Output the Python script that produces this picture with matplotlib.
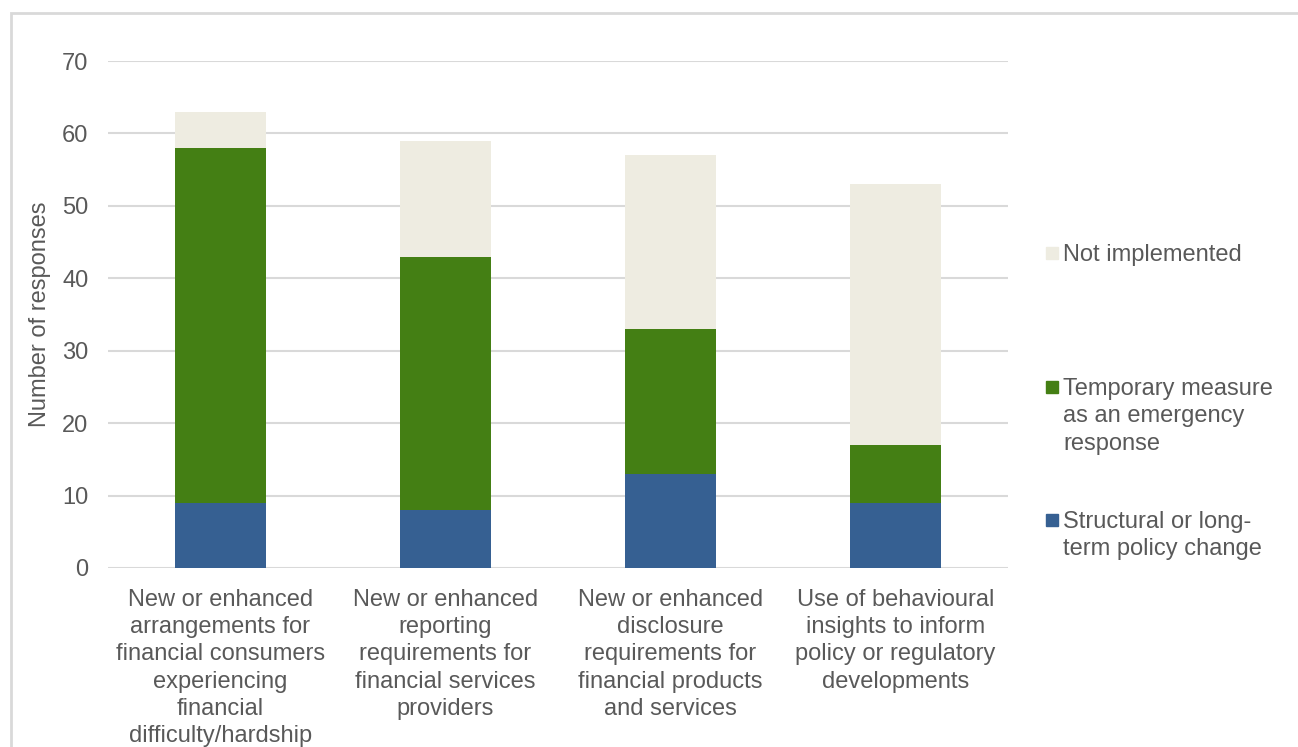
import matplotlib.pyplot as plt
from matplotlib.patches import Rectangle

plt.rcParams["font.family"] = ["Liberation Sans", "DejaVu Sans"]

categories = [
    "New or enhanced\narrangements for\nfinancial consumers\nexperiencing\nfinancial\ndifficulty/hardship",
    "New or enhanced\nreporting\nrequirements for\nfinancial services\nproviders",
    "New or enhanced\ndisclosure\nrequirements for\nfinancial products\nand services",
    "Use of behavioural\ninsights to inform\npolicy or regulatory\ndevelopments",
]
structural = [9, 8, 13, 9]
temporary = [49, 35, 20, 8]
not_implemented = [5, 16, 24, 36]

series_labels = [
    "Structural or long-\nterm policy change",
    "Temporary measure\nas an emergency\nresponse",
    "Not implemented",
]
colors = ["#366092", "#447F14", "#EEECE1"]
text_col = "#595959"
grid_col = "#D9D9D9"
fs = 17

W, H = 1298, 747
fig = plt.figure(figsize=(W / 100, H / 100), dpi=100)
ax = fig.add_axes([108 / W, 1 - 568 / H, 900 / W, (568 - 61) / H])

x = range(len(categories))
bottom2 = [a + b for a, b in zip(structural, temporary)]
ax.bar(x, structural, width=0.405, color=colors[0], zorder=3)
ax.bar(x, temporary, width=0.405, bottom=structural, color=colors[1], zorder=3)
ax.bar(x, not_implemented, width=0.405, bottom=bottom2, color=colors[2], zorder=3)

ax.set_xlim(-0.5, 3.5)
ax.set_ylim(0, 70)
ax.set_yticks(range(0, 71, 10))
ax.yaxis.grid(True, color=grid_col, linewidth=1.5, zorder=0)
for s in ax.spines.values():
    s.set_visible(False)
ax.tick_params(length=0, colors=text_col, labelsize=fs)
ax.tick_params(axis="y", pad=14)
ax.set_xticks(list(x))
ax.set_xticklabels(categories, linespacing=1.31)
ax.tick_params(axis="x", pad=15)
ax.set_ylabel("Number of responses", color=text_col, fontsize=fs, labelpad=8)

# legend drawn like the spreadsheet one: marker level with the first text line
leg_y = [520, 387, 253]
for lab, col, yy in zip(series_labels, colors, leg_y):
    fig.patches.append(Rectangle((1046 / W, 1 - (yy + 6) / H), 12 / W, 12 / H,
                                 transform=fig.transFigure, color=col))
    fig.text(1063 / W, 1 - (yy - 9) / H, lab, color=text_col, fontsize=fs,
             va="top", ha="left", linespacing=1.31)

# outer chart frame, cut off at the right and bottom
fig.patches.append(Rectangle((11 / W, -0.05), 1.1, 1 - 13 / H + 0.05,
                             transform=fig.transFigure, fill=False,
                             edgecolor=grid_col, linewidth=2))

fig.savefig("out.png", dpi=100)
